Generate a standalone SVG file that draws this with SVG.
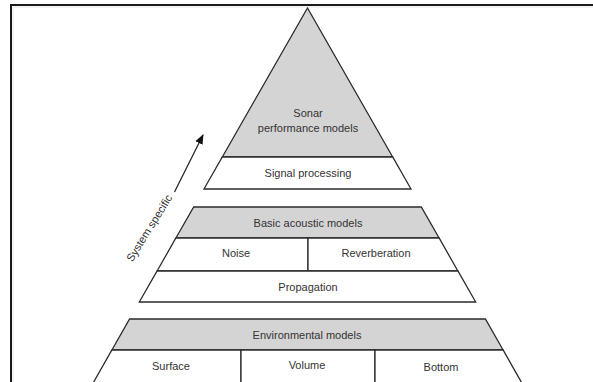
<svg xmlns="http://www.w3.org/2000/svg" width="593" height="382" viewBox="0 0 593 382">
  <defs>
    <style>
      .band { fill: #d4d4d4; stroke: #2b2b2b; stroke-width: 1.3; stroke-linejoin: miter; }
      .cell { fill: #ffffff; stroke: #2b2b2b; stroke-width: 1.3; stroke-linejoin: miter; }
      .lbl { font-family: "Liberation Sans", Arial, sans-serif; font-size: 11px; fill: #333333; text-anchor: middle; }
      .conn { stroke: #222222; stroke-width: 1.2; fill: none; }
    </style>
    <marker id="arrowhead" markerWidth="10" markerHeight="10" refX="9" refY="5" orient="auto" markerUnits="userSpaceOnUse">
      <path d="M0,1 L10,5 L0,9 Z" fill="#111111"/>
    </marker>
  </defs>

  <rect width="593" height="382" fill="#ffffff"/>

  <!-- frame: left and top edges only -->
  <path d="M11,382 V5 H593" fill="none" stroke="#1a1a1a" stroke-width="2"/>
  <path d="M13,382 V7 H593" fill="none" stroke="#e6e6e6" stroke-width="1"/>

  <!-- tier 1: sonar performance -->
  <g id="sonar-performance-models">
    <path class="band" d="M307.5,8 L392.7,157 L222.3,157 Z"/>
    <text class="lbl" x="308" y="117">Sonar</text>
    <text class="lbl" x="308" y="132">performance models</text>
  </g>
  <g id="signal-processing">
    <path class="cell" d="M222.3,157 L392.7,157 L411,189 L204,189 Z"/>
    <text class="lbl" x="308" y="177">Signal processing</text>
  </g>

  <!-- tier 2: basic acoustic -->
  <g id="basic-acoustic-models">
    <path class="band" d="M193.7,207 L421.3,207 L439.1,238 L175.9,238 Z"/>
    <text class="lbl" x="308" y="227">Basic acoustic models</text>
  </g>
  <g id="noise">
    <path class="cell" d="M175.9,238 L308,238 L308,271 L157.1,271 Z"/>
    <text class="lbl" x="236" y="257">Noise</text>
  </g>
  <g id="reverberation">
    <path class="cell" d="M308,238 L439.1,238 L457.9,271 L308,271 Z"/>
    <text class="lbl" x="376" y="257">Reverberation</text>
  </g>
  <g id="propagation">
    <path class="cell" d="M157.1,271 L457.9,271 L475.7,302 L139.3,302 Z"/>
    <text class="lbl" x="308" y="291">Propagation</text>
  </g>

  <!-- tier 3: environmental -->
  <g id="environmental-models">
    <path class="band" d="M129.6,319 L485.4,319 L503.1,350 L111.9,350 Z"/>
    <text class="lbl" x="307" y="339">Environmental models</text>
  </g>
  <g id="surface">
    <path class="cell" d="M111.9,350 L241,350 L241,392 L88,392 Z"/>
    <text class="lbl" x="171" y="370">Surface</text>
  </g>
  <g id="volume">
    <path class="cell" d="M241,350 L375,350 L375,392 L241,392 Z"/>
    <text class="lbl" x="307" y="369">Volume</text>
  </g>
  <g id="bottom">
    <path class="cell" d="M375,350 L503.1,350 L527,392 L375,392 Z"/>
    <text class="lbl" x="441" y="371">Bottom</text>
  </g>

  <!-- trend arrow -->
  <g id="connectors">
    <line class="conn" x1="174.5" y1="192" x2="203" y2="135" marker-end="url(#arrowhead)"/>
  </g>
  <g id="system-specific">
    <text class="lbl" x="152.5" y="230" transform="rotate(-58 152.5 230)">System specific</text>
  </g>
</svg>
